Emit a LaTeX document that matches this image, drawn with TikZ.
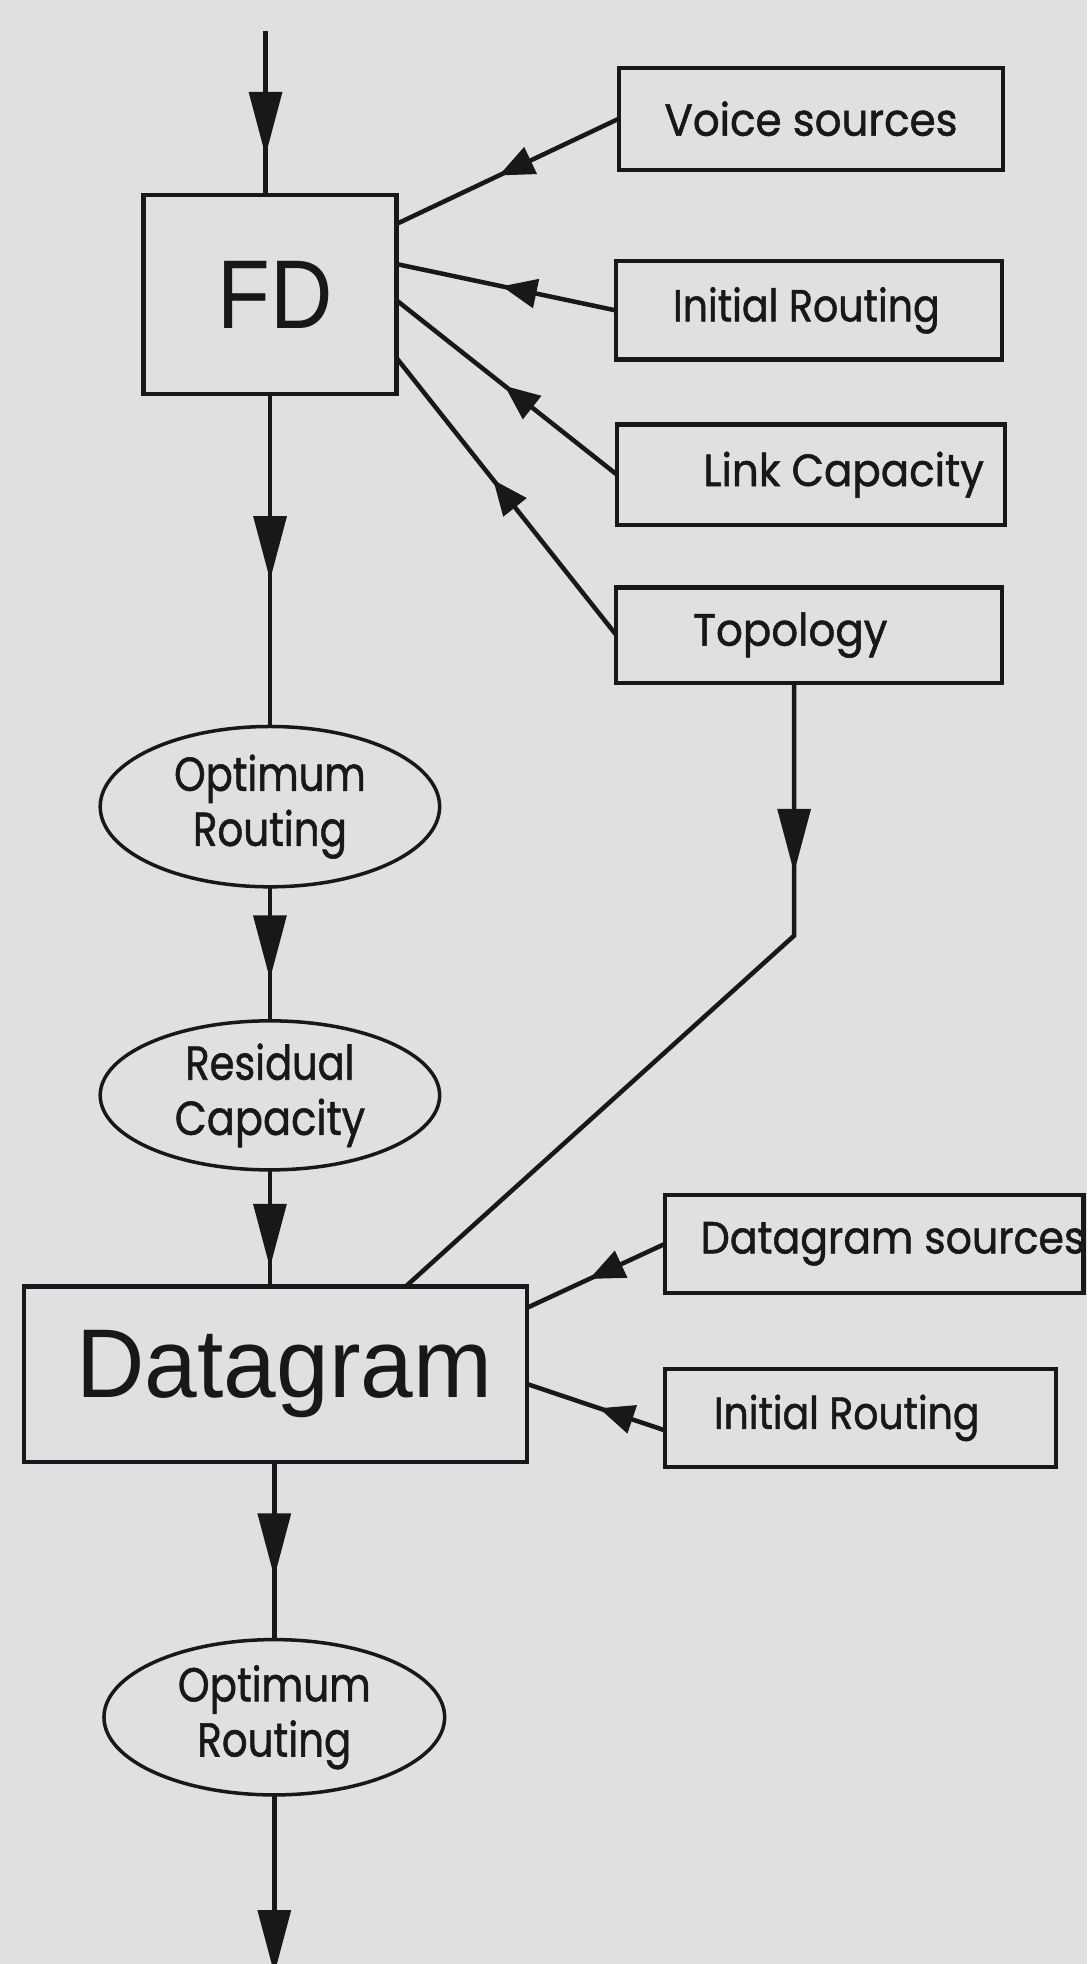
\documentclass[tikz,border=0pt]{standalone}
\usepackage{fontspec}
\usepackage{graphicx}
\setmainfont{Liberation Sans}
\newfontfamily\lblfont{Poppins}[FakeBold=1.2]
\usetikzlibrary{arrows.meta,decorations.markings,shapes.geometric,calc}
\definecolor{paper}{RGB}{222,224,226}
\definecolor{ink}{RGB}{24,24,24}
% label: width, horizontal shift, text
\newcommand{\lbl}[3]{\makebox[0pt][c]{\hspace*{#2}\hspace*{#2}\resizebox{#1}{\height}{#3}}}
\newcommand{\fitw}[2]{\resizebox{#1}{\height}{#2}}
\begin{document}
\begin{tikzpicture}[x=0.5pt,y=-0.5pt,
  every node/.style={text=ink,outer sep=0pt,inner sep=0pt},
  srcbox/.style={draw=ink,line width=1.7pt,rectangle,font=\lblfont\fontsize{18pt}{22pt}\selectfont},
  bigbox/.style={draw=ink,line width=1.7pt,rectangle},
  oval/.style={draw=ink,line width=1.4pt,ellipse,align=center,font=\lblfont\fontsize{19pt}{22pt}\selectfont},
  conn/.style={draw=ink,line width=1.8pt},
  midarr/.style={postaction={decorate},decoration={markings,mark=at position #1 with {\arrow{Triangle[length=25.5pt,width=13pt]}}}},
  sidearr/.style={postaction={decorate},decoration={markings,mark=at position #1 with {\arrow{Triangle[length=14pt,width=11.5pt]}}}}
]
\fill[paper] (0,0) rectangle (868,1568);
\useasboundingbox (0,0) rectangle (868,1568);

% nodes
\node[bigbox,minimum width=101pt,minimum height=79.3pt] (FD) at (215.6,235.1)
  {\lbl{46pt}{2pt}{\fontsize{39pt}{42pt}\selectfont FD}};
\node[srcbox,minimum width=153.5pt,minimum height=40.7pt] (voice) at (647.5,94.8)
  {\lbl{117pt}{0pt}{Voice sources}};
\node[srcbox,minimum width=154.2pt,minimum height=39.3pt] (init1) at (645.8,247.8)
  {\lbl{106.5pt}{-1pt}{Initial Routing}};
\node[srcbox,minimum width=155pt,minimum height=40pt] (link) at (647.6,379)
  {\lbl{112pt}{13pt}{Link Capacity}};
\node[srcbox,minimum width=154pt,minimum height=38pt] (topo) at (646,507)
  {\lbl{77.5pt}{-7.5pt}{Topology}};
\node[oval,minimum width=135.5pt,minimum height=64pt] (opt1) at (215.5,644)
  {\fitw{76.5pt}{Optimum}\\\fitw{61.5pt}{Routing}};
\node[oval,minimum width=135.5pt,minimum height=59.5pt] (res) at (215.5,874.5)
  {\fitw{67.5pt}{Residual}\\\fitw{76pt}{Capacity}};
\node[bigbox,minimum width=201pt,minimum height=70pt] (dgram) at (220,1097)
  {\lbl{166pt}{3.5pt}{\fontsize{39pt}{42pt}\selectfont Datagram}};
\node[srcbox,minimum width=167pt,minimum height=39pt] (dsrc) at (698,993)
  {\lbl{153.5pt}{7.5pt}{Datagram sources}};
\node[srcbox,minimum width=156pt,minimum height=39pt] (init2) at (687,1132)
  {\lbl{106pt}{-5.5pt}{Initial Routing}};
\node[oval,minimum width=136pt,minimum height=62pt] (opt2) at (219,1371)
  {\fitw{77pt}{Optimum}\\\fitw{61.5pt}{Routing}};

\coordinate (in0) at (212,25);
\coordinate (out) at (219,1576);
\coordinate (tc) at (634,747);

% vertical flow
\draw[conn,midarr=0.76] (in0) -- (in0 |- FD.north);
\draw[conn,midarr=0.56] (FD.south) -- (FD.south |- opt1.north);
\draw[conn,midarr=0.69] (opt1.south) -- (res.north);
\draw[conn,midarr=0.84] (res.south) -- (res.south |- dgram.north);
\draw[conn,midarr=0.65] (dgram.south -| opt2.north) -- (opt2.north);
\draw[conn,-{Triangle[length=25.5pt,width=13pt]}] (opt2.south) -- (out);

% inputs to FD
\draw[conn,sidearr=0.54] (voice.west) -- ($(FD.north east)+(0,23)$);
\draw[conn,sidearr=0.52] (init1.west) -- ($(FD.north east)+(0,55)$);
\draw[conn,sidearr=0.51] (link.west) -- ($(FD.north east)+(0,84)$);
\draw[conn,sidearr=0.56] (topo.west) -- ($(FD.north east)+(0,130)$);

% topology to datagram
\draw[conn,midarr=0.245] (topo.south -| tc) -- (tc) -- ($(dgram.north west)+(305,0)$);

% inputs to datagram
\draw[conn,sidearr=0.55] (dsrc.west) -- ($(dgram.north east)+(0,17)$);
\draw[conn,sidearr=0.48] ($(init2.west)+(0,10)$) -- ($(dgram.north east)+(0,78)$);
\end{tikzpicture}
\end{document}
